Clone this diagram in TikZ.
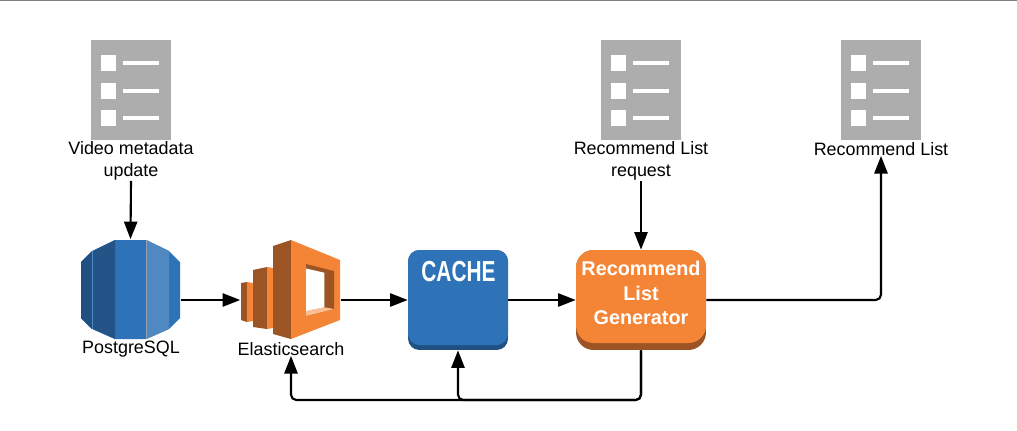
\documentclass[tikz,border=0pt]{standalone}
\usepackage{fontspec}
\setmainfont{Liberation Sans}
\usepackage{xcolor}
\usetikzlibrary{arrows.meta}
\definecolor{docgray}{HTML}{ADADAD}
\definecolor{awsblue}{HTML}{2E73B8}
\definecolor{awsdark}{HTML}{205081}
\definecolor{awsmid}{HTML}{245487}
\definecolor{awslight}{HTML}{5088C2}
\definecolor{awsorange}{HTML}{F58536}
\definecolor{awsbrown}{HTML}{9D5425}
\definecolor{awspale}{HTML}{FBBF93}
\tikzset{
	flow/.style={line width=1.2pt,-{Triangle[length=10pt,width=7.5pt]},rounded corners=3pt},
	wire/.style={inner sep=0pt,minimum width=2cm,minimum height=2cm},
	caption/.style={inner sep=0pt,align=center,font=\fontsize{10.2}{12.6}\selectfont},
	boxtext/.style={text=white,inner sep=0pt,align=center,font=\fontsize{11.3}{13.7}\selectfont\bfseries}
}
\begin{document}
\begin{tikzpicture}[x=0.02cm,y=-0.02cm]
	\useasboundingbox (0,0) rectangle (1017,430);
	\draw[gray,line width=0.6pt] (0,0.5) -- (1017,0.5);
	% list icons
	\foreach \x/\name in {131/videoicon,641/requesticon,881/listicon} {
		\node[wire,minimum width=1.6cm,fill=docgray] (\name) at (\x,90) {};
		\foreach \y in {63,91,118} {
			\fill[white] (\x-30,\y-8) rectangle (\x-15,\y+8);
			\fill[white] (\x-8,\y-1.6) rectangle (\x+28,\y+1.6);
		}
	}
	\node[caption] (videolabel) at (131,161) {Video metadata\\update};
	\node[caption] (requestlabel) at (641,161) {Recommend List\\request};
	\node[caption] (listlabel) at (881,149) {Recommend List};
	% database
	\node[wire] (postgres) at (130.5,289.5) {};
	\fill[awsblue] (81,262) -- (92,251) -- (115,240) -- (146,240) -- (169,251) -- (180,262)
		-- (180,318) -- (169,329) -- (146,339) -- (115,339) -- (92,329) -- (81,318) -- cycle;
	\fill[awsdark] (81,262) -- (92,251) -- (92,329) -- (81,318) -- cycle;
	\fill[awsmid] (93,251) -- (115,240) -- (115,339) -- (93,329) -- cycle;
	\fill[awslight] (146.5,240) -- (169,251) -- (169,329) -- (146.5,339) -- cycle;
	\draw[awslight,line width=0.4pt] (92.5,251) -- (92.5,329);
	\draw[awspale!40!awslight,line width=0.4pt] (146.5,240) -- (146.5,339);
	\node[caption] (postgreslabel) at (131,349) {PostgreSQL};
	% search
	\node[wire] (elastic) at (290.5,289.5) {};
	\fill[awsbrown] (241,283) -- (247,282) -- (247,322) -- (241,320) -- cycle;
	\fill[awsorange] (247,282) -- (253,283) -- (253,321) -- (247,322) -- cycle;
	\fill[awsbrown] (253,270) -- (267,267) -- (267,329) -- (253,327) -- cycle;
	\fill[awsorange] (267,267) -- (273,268) -- (273,328) -- (267,329) -- cycle;
	\fill[awsbrown] (273,246) -- (291,240) -- (291,339) -- (273,334) -- cycle;
	\fill[awsorange] (291,240) -- (340,260) -- (340,320) -- (291,339) -- cycle;
	\fill[awsbrown] (306,264) -- (334,271) -- (334,309) -- (306,316) -- cycle;
	\fill[awspale] (306,311) -- (324.3,307.3) -- (334,309) -- (306,316) -- cycle;
	\fill[white] (306,268.5) -- (324.3,272.7) -- (324.3,307.3) -- (306,311) -- cycle;
	\node[caption] (elasticlabel) at (291,349) {Elasticsearch};
	% boxes
	\node[wire,rounded corners=6.5pt,fill=awsdark] (cache) at (458,300) {};
	\fill[awsblue,rounded corners=6.5pt] (408,250) rectangle (508,345);
	\node[text=white,inner sep=0pt,xscale=0.72,font=\fontsize{16.5}{18}\selectfont\bfseries] (cachelabel) at (458.5,272) {CACHE};
	\node[wire,minimum width=2.6cm,rounded corners=10pt,fill=awsbrown] (generator) at (641,300) {};
	\fill[awsorange,rounded corners=10pt] (576,250) rectangle (706,343);
	\node[boxtext] (generatorlabel) at (641,293) {Recommend\\[0.3pt]List\\[0.3pt]Generator};
	% connectors
	\coordinate (bend) at (641,400);
	\draw[flow] (videolabel.south) -- (postgres.north);
	\draw[flow] (requestlabel.south) -- (generator.north);
	\draw[flow] (postgres.east |- cache.west) -- (elastic.west |- cache.west);
	\draw[flow] (elastic.east |- cache.west) -- (cache.west);
	\draw[flow] (cache.east) -- (generator.west);
	\draw[flow] (generator.east) -- (generator.east -| listlabel.south) -- (listlabel.south);
	\draw[flow] (generator.south) -- (bend) -- (bend -| cache.south) -- (cache.south);
	\draw[flow] (generator.south) -- (bend) -- (bend -| elasticlabel.south) -- (elasticlabel.south);
\end{tikzpicture}
\end{document}
